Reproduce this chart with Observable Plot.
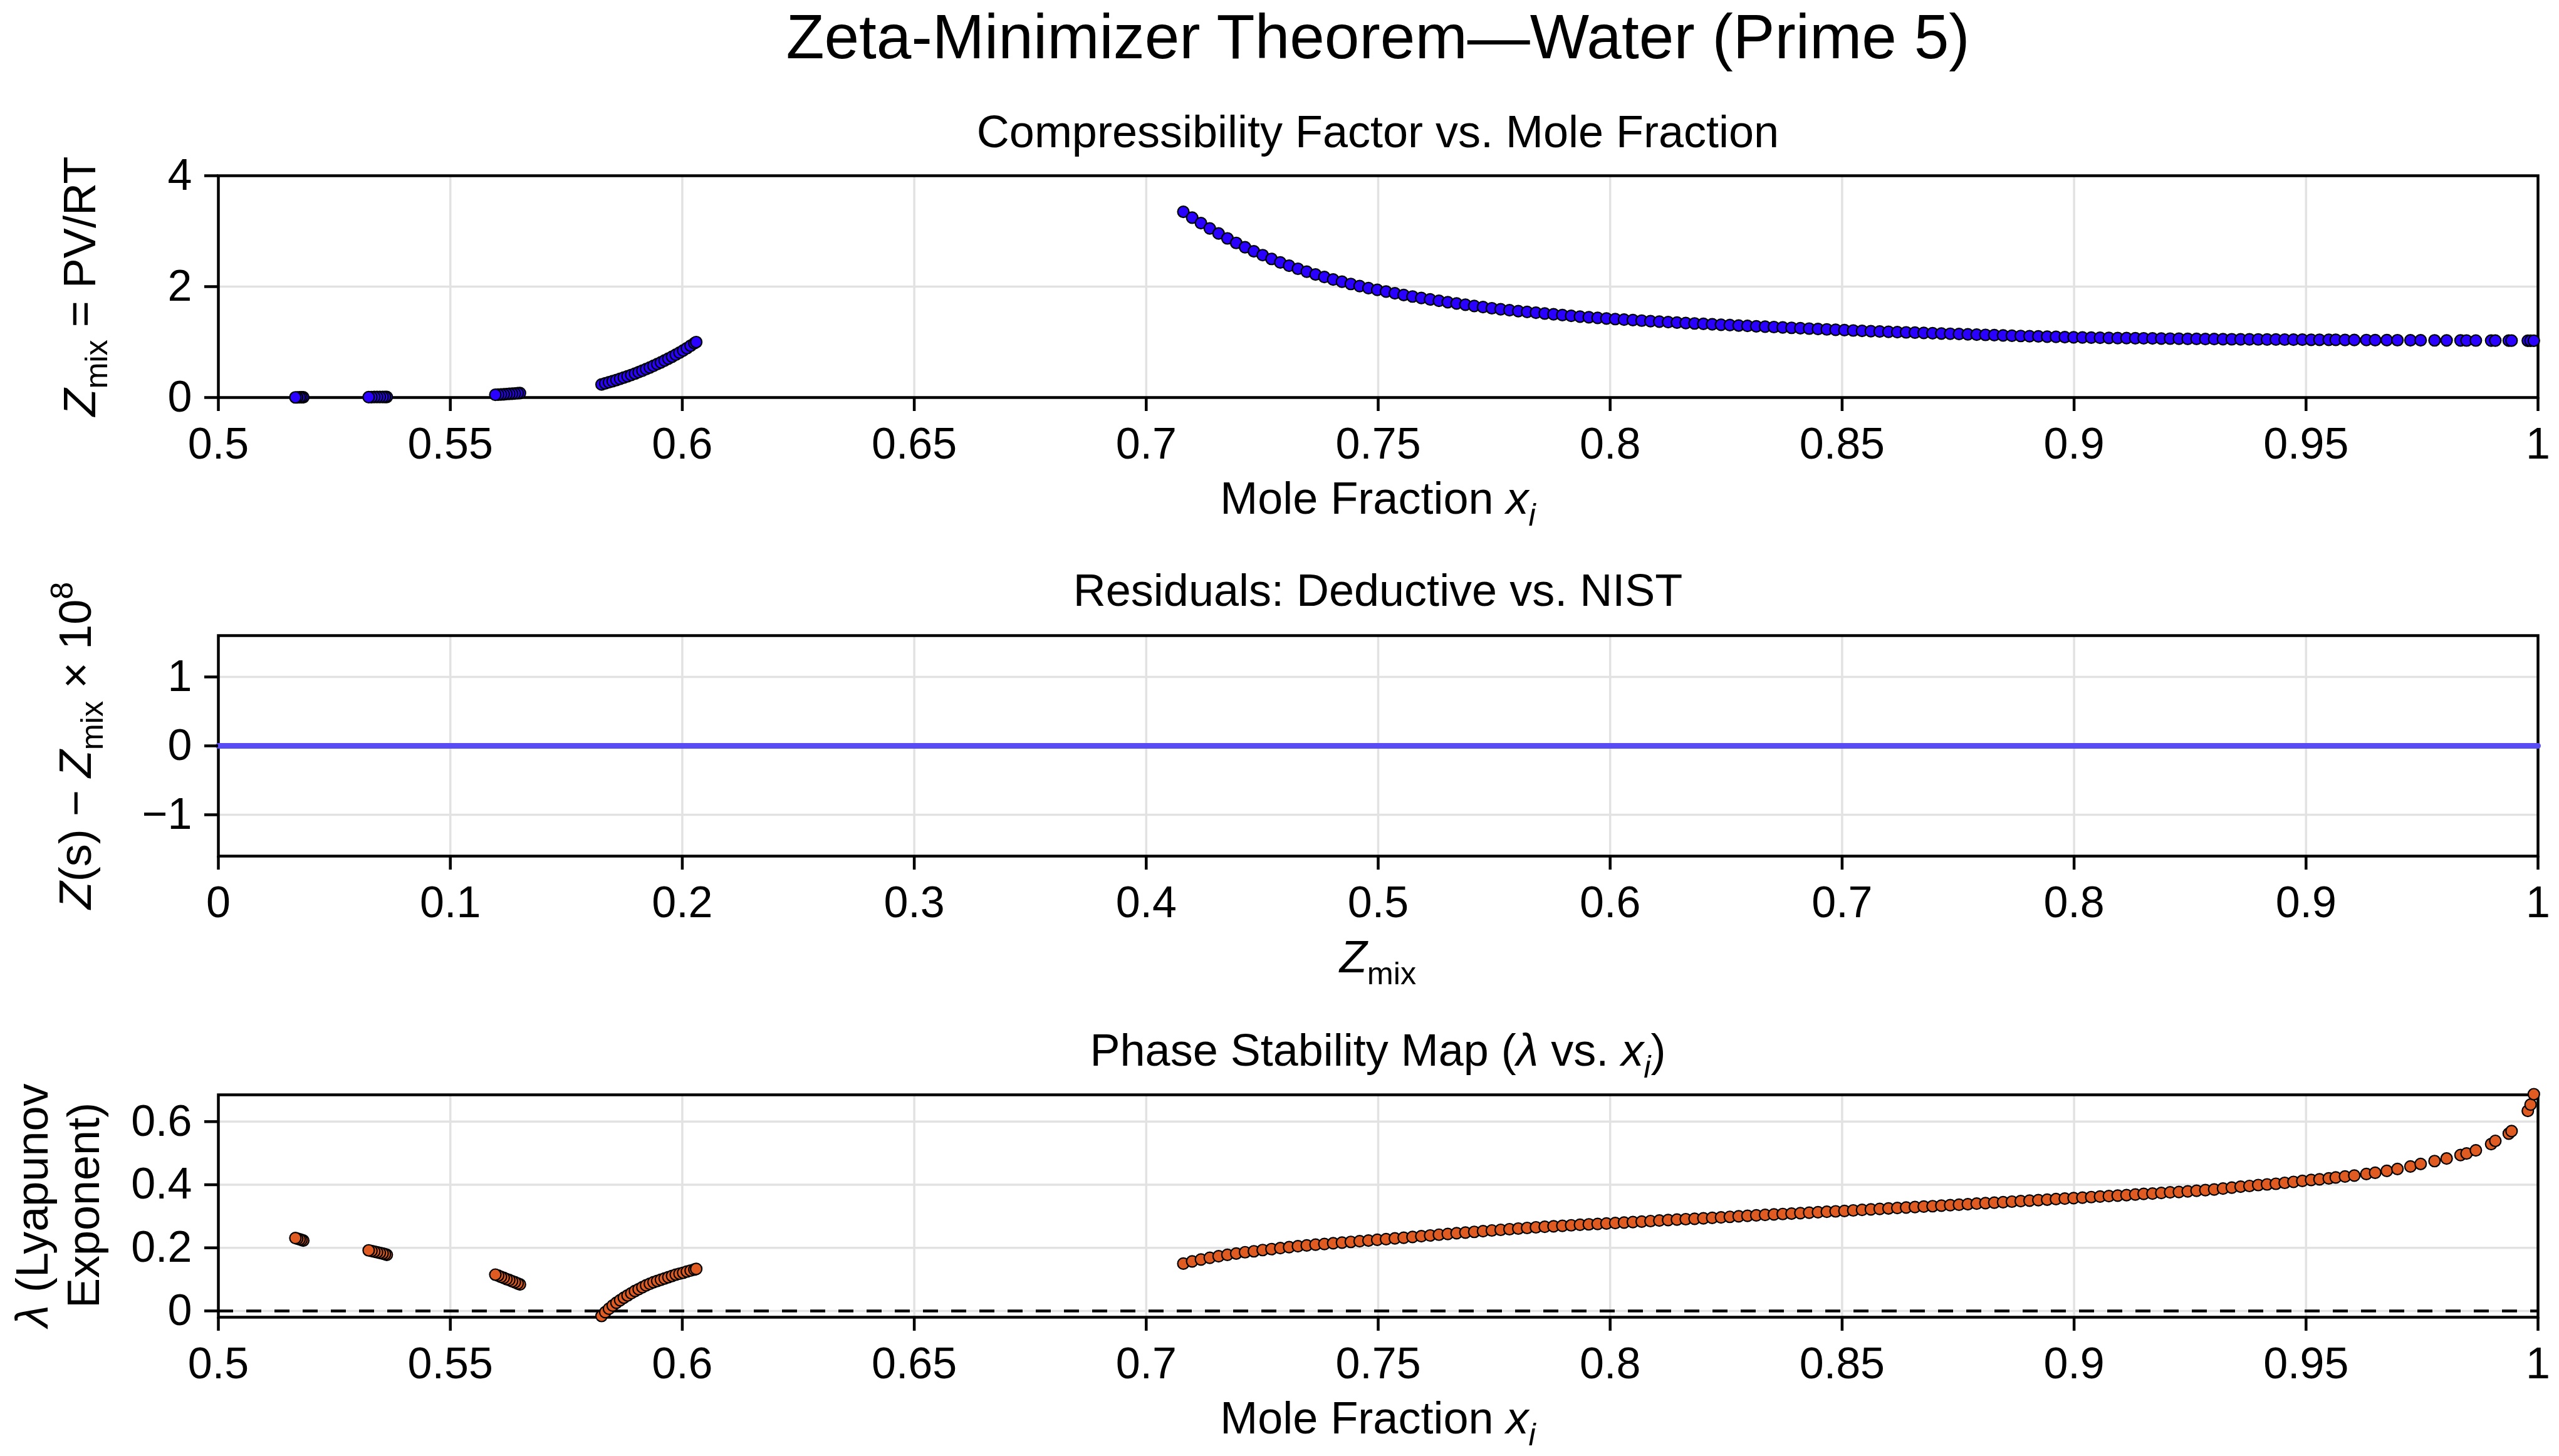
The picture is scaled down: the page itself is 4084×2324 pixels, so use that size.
<!DOCTYPE html>
<html>
<head>
<meta charset="utf-8">
<script src="https://cdn.jsdelivr.net/npm/d3@7"></script>
<script src="https://cdn.jsdelivr.net/npm/@observablehq/plot@0.6"></script>
<style>
  html, body { margin:0; padding:0; background:#fff; }
  #root { position:relative; width:4084px; height:2324px; overflow:hidden; background:#fff;
          font-family:"Liberation Sans", Arial, Helvetica, sans-serif; }
  #title { position:absolute; left:0; top:8px; width:4084px; box-sizing:border-box; padding-left:314px;
           text-align:center; font-size:100px; line-height:100px; color:#000; white-space:nowrap; }
  #root svg { position:absolute; left:0; }
  #root svg text { white-space: pre; }
</style>
</head>
<body>
<div id="root"><div id="title">Zeta-Minimizer Theorem—Water (Prime 5)</div></div>
<script>
// ---------------- data ----------------
const moleFraction = [
  0.5183, 0.5179, 0.5175, 0.5170, 0.5166,
  0.5363, 0.5359, 0.5354, 0.5348, 0.5342, 0.5336, 0.5330, 0.5324,
  0.5650, 0.5645, 0.5639, 0.5633, 0.5627, 0.5621, 0.5615, 0.5609, 0.5603, 0.5597,
  0.5826, 0.5834, 0.5842, 0.5850, 0.5858, 0.5866, 0.5874, 0.5882, 0.5890, 0.5898, 0.5906, 0.5914, 0.5922, 0.5930,
  0.5938, 0.5946, 0.5954, 0.5962, 0.5970, 0.5978, 0.5986, 0.5994, 0.6002, 0.6010, 0.6018, 0.6026, 0.6030,
  0.7080, 0.7099, 0.7118, 0.7137, 0.7156, 0.7175, 0.7194, 0.7213, 0.7232, 0.7251,
  0.7270, 0.7289, 0.7308, 0.7327, 0.7346, 0.7365, 0.7384, 0.7403, 0.7422, 0.7441,
  0.7460, 0.7479, 0.7498, 0.7517, 0.7536, 0.7555, 0.7574, 0.7593, 0.7612, 0.7631,
  0.7650, 0.7669, 0.7688, 0.7707, 0.7726, 0.7745, 0.7764, 0.7783, 0.7802, 0.7821,
  0.7840, 0.7859, 0.7878, 0.7897, 0.7916, 0.7935, 0.7954, 0.7973, 0.7992, 0.8011,
  0.8030, 0.8049, 0.8068, 0.8087, 0.8106, 0.8125, 0.8144, 0.8163, 0.8182, 0.8201,
  0.8220, 0.8239, 0.8258, 0.8277, 0.8296, 0.8315, 0.8334, 0.8353, 0.8372, 0.8391,
  0.8410, 0.8429, 0.8448, 0.8467, 0.8486, 0.8505, 0.8524, 0.8543, 0.8562, 0.8581,
  0.8600, 0.8619, 0.8638, 0.8657, 0.8676, 0.8695, 0.8714, 0.8733, 0.8752, 0.8771,
  0.8790, 0.8809, 0.8828, 0.8847, 0.8866, 0.8885, 0.8904, 0.8923, 0.8942, 0.8961,
  0.8980, 0.8999, 0.9018, 0.9037, 0.9056, 0.9075, 0.9094, 0.9113, 0.9132,
  0.9150, 0.9169, 0.9188, 0.9207, 0.9226, 0.9245, 0.9264, 0.9283, 0.9302, 0.9321,
  0.9340, 0.9359, 0.9378, 0.9397, 0.9416, 0.9435, 0.9454, 0.9473, 0.9492, 0.9511,
  0.9529, 0.9549, 0.9564, 0.9584, 0.9604, 0.9630, 0.9649, 0.9674, 0.9697, 0.9725,
  0.9747, 0.9777, 0.9803, 0.9833, 0.9846, 0.9866, 0.9899, 0.9908, 0.9937, 0.9943,
  0.9978, 0.9984, 0.9991
];

const zMix = [
  0.004, 0.004, 0.004, 0.003, 0.003,
  0.011, 0.011, 0.010, 0.010, 0.009, 0.009, 0.008, 0.008,
  0.080, 0.077, 0.073, 0.069, 0.066, 0.062, 0.059, 0.056, 0.053, 0.050,
  0.235, 0.255, 0.275, 0.295, 0.316, 0.338, 0.360, 0.383, 0.407, 0.432, 0.458, 0.485, 0.513, 0.542,
  0.572, 0.603, 0.635, 0.668, 0.702, 0.737, 0.773, 0.810, 0.848, 0.890, 0.935, 0.980, 1.000,
  3.35, 3.245, 3.145, 3.05, 2.958, 2.87, 2.788, 2.711, 2.638, 2.568,
  2.50, 2.436, 2.377, 2.322, 2.27, 2.22, 2.173, 2.129, 2.088, 2.048,
  2.01, 1.974, 1.941, 1.91, 1.879, 1.85, 1.822, 1.795, 1.769, 1.744,
  1.72, 1.697, 1.674, 1.652, 1.631, 1.61, 1.592, 1.575, 1.559, 1.544,
  1.53, 1.515, 1.501, 1.487, 1.473, 1.46, 1.448, 1.437, 1.426, 1.415,
  1.405, 1.396, 1.387, 1.378, 1.369, 1.36, 1.352, 1.344, 1.336, 1.328,
  1.32, 1.313, 1.306, 1.299, 1.292, 1.285, 1.278, 1.271, 1.264, 1.257,
  1.25, 1.243, 1.236, 1.229, 1.222, 1.215, 1.209, 1.203, 1.197, 1.191,
  1.185, 1.18, 1.175, 1.17, 1.165, 1.16, 1.155, 1.15, 1.145, 1.14,
  1.135, 1.13, 1.125, 1.12, 1.115, 1.11, 1.106, 1.102, 1.098, 1.094,
  1.09, 1.087, 1.084, 1.081, 1.078, 1.075, 1.073, 1.071, 1.07,
  1.068, 1.066, 1.064, 1.062, 1.060, 1.058, 1.057, 1.055, 1.054, 1.052,
  1.051, 1.050, 1.049, 1.048, 1.047, 1.046, 1.045, 1.044, 1.043, 1.042,
  1.042, 1.041, 1.040, 1.039, 1.038, 1.037, 1.036, 1.035, 1.034, 1.033,
  1.032, 1.031, 1.030, 1.029, 1.028, 1.028, 1.027, 1.027, 1.026, 1.026,
  1.025, 1.025, 1.025
];

const lyapunov = [
  0.223, 0.225, 0.227, 0.229, 0.231,
  0.178, 0.180, 0.182, 0.184, 0.186, 0.188, 0.190, 0.192,
  0.084, 0.087, 0.091, 0.094, 0.098, 0.101, 0.105, 0.108, 0.112, 0.115,
  -0.016, -0.004, 0.007, 0.017, 0.026, 0.034, 0.042, 0.049, 0.056, 0.063, 0.069, 0.075, 0.081, 0.086,
  0.091, 0.095, 0.099, 0.103, 0.107, 0.111, 0.115, 0.118, 0.121, 0.125, 0.128, 0.131, 0.133,
  0.150, 0.157, 0.163, 0.1685, 0.1735, 0.178, 0.182, 0.186, 0.189, 0.193,
  0.196, 0.199, 0.202, 0.205, 0.2075, 0.210, 0.2122, 0.2144, 0.2166, 0.2188,
  0.221, 0.2232, 0.2254, 0.2276, 0.2298, 0.232, 0.2344, 0.2368, 0.2392, 0.2416,
  0.244, 0.2462, 0.2484, 0.2506, 0.2528, 0.255, 0.257, 0.259, 0.261, 0.263,
  0.265, 0.2666, 0.2682, 0.2698, 0.2714, 0.273, 0.2744, 0.2758, 0.2772, 0.2786,
  0.280, 0.2816, 0.2832, 0.2848, 0.2864, 0.288, 0.2894, 0.2908, 0.2922, 0.2936,
  0.295, 0.2966, 0.2982, 0.2998, 0.3014, 0.303, 0.3044, 0.3058, 0.3072, 0.3086,
  0.310, 0.3114, 0.3128, 0.3142, 0.3156, 0.317, 0.3186, 0.3202, 0.3218, 0.3234,
  0.325, 0.3264, 0.3278, 0.3292, 0.3306, 0.332, 0.3336, 0.3352, 0.3368, 0.3384,
  0.340, 0.3416, 0.3432, 0.3448, 0.3464, 0.348, 0.3496, 0.3512, 0.3528, 0.3544,
  0.356, 0.3576, 0.3592, 0.3608, 0.3624, 0.364, 0.3656, 0.3672, 0.369,
  0.371, 0.372, 0.374, 0.376, 0.377, 0.379, 0.381, 0.383, 0.385, 0.388,
  0.391, 0.394, 0.396, 0.399, 0.401, 0.403, 0.406, 0.409, 0.412, 0.415,
  0.417, 0.420, 0.423, 0.426, 0.429, 0.434, 0.438, 0.444, 0.450, 0.458,
  0.466, 0.475, 0.483, 0.494, 0.499, 0.509, 0.529, 0.539, 0.562, 0.570,
  0.634, 0.654, 0.687
];

// residual panel: Z(s) - Z_mix (x 1e8) against Z_mix
const residualZmix = [0, 0.25, 0.5, 0.75, 1];
const residualScaled = [0, 0, 0, 0, 0];

// tick values
const xTicksMole = [0.5, 0.55, 0.6, 0.65, 0.7, 0.75, 0.8, 0.85, 0.9, 0.95, 1];
const xTicksZmix = [0, 0.1, 0.2, 0.3, 0.4, 0.5, 0.6, 0.7, 0.8, 0.9, 1];
const yTicksZ = [0, 2, 4];
const yTicksResid = [-1, 0, 1];
const yTicksLyap = [0, 0.2, 0.4, 0.6];

// ---------------- drawing ----------------
if (moleFraction.length !== zMix.length || moleFraction.length !== lyapunov.length) {
  throw new Error("length mismatch " + moleFraction.length + " " + zMix.length + " " + lyapunov.length);
}
const states = moleFraction.map((x, i) => ({x, z: zMix[i], lam: lyapunov[i]}));
const residuals = residualZmix.map((z, i) => ({z, r: residualScaled[i]}));

const FONT = '"Liberation Sans", Arial, Helvetica, sans-serif';
const W = 4084, ML = 348, MR = 34;
const CX = (ML + (W - MR)) / 2;
const root = document.getElementById("root");
const GRID = {stroke: "#e2e2e2", strokeOpacity: 1, strokeWidth: 3.5};
const fmtNum = d => (d < 0 ? "\u2212" : "") + String(+Math.abs(d).toFixed(2));

function makePanel(o) {
  const svg = Plot.plot({
    width: W, height: o.height,
    marginTop: o.frameTop, marginBottom: o.height - o.frameBottom,
    marginLeft: ML, marginRight: MR,
    style: {fontFamily: FONT, fontSize: "70px", background: "transparent", overflow: "visible", color: "#000"},
    x: {domain: o.xDomain},
    y: {domain: o.yDomain},
    marks: [
      Plot.gridX(o.xTicks, GRID),
      Plot.gridY(o.yTicks, GRID),
      Plot.frame({stroke: "#000", strokeWidth: 4.5}),
      ...o.marks,
      Plot.axisX(o.xTicks, {tickSize: 22, tickPadding: 26, strokeWidth: 4.5, fontSize: 70, tickFormat: fmtNum, label: null}),
      Plot.axisY(o.yTicks, {tickSize: 22, tickPadding: 20, strokeWidth: 4.5, fontSize: 70, tickFormat: fmtNum, label: null})
    ]
  });
  svg.style.top = o.top + "px";
  root.appendChild(svg);
  return d3.select(svg);
}

function rich(sel, x, y, parts, opts = {}) {
  const size = opts.size || 72;
  const t = sel.append("text")
    .attr("transform", opts.rotate ? `translate(${x},${y}) rotate(-90)` : `translate(${x},${y})`)
    .attr("text-anchor", "middle")
    .attr("font-family", FONT)
    .attr("font-size", size)
    .attr("fill", "#000");
  let cur = 0;
  for (const p of parts) {
    const shift = p.sub ? 0.26 * size : p.sup ? -0.40 * size : 0;
    const ts = t.append("tspan").text(p.t).attr("dy", shift - cur);
    cur = shift;
    if (p.it) ts.attr("font-style", "italic");
    if (p.sub || p.sup) ts.attr("font-size", size * 0.7);
  }
  return t;
}

// Panel 1: compressibility factor
{
  const top = 0;
  const s = makePanel({
    top, height: 880, frameTop: 280, frameBottom: 634,
    xDomain: [0.5, 1], yDomain: [0, 4], xTicks: xTicksMole, yTicks: yTicksZ,
    marks: [
      Plot.dot(states, {x: "x", y: "z", r: 9, fill: "#2a00ff", stroke: "#000", strokeWidth: 2.2})
    ]
  });
  rich(s, CX, 235 - top, [{t: "Compressibility Factor vs. Mole Fraction"}]);
  rich(s, CX, 820 - top, [{t: "Mole Fraction "}, {t: "x", it: true}, {t: "i", it: true, sub: true}]);
  rich(s, 152, 457 - top, [{t: "Z", it: true}, {t: "mix", sub: true}, {t: " = PV/RT"}], {rotate: true});
}

// Panel 2: residuals
{
  const top = 880;
  const s = makePanel({
    top, height: 720, frameTop: 1014 - top, frameBottom: 1366 - top,
    xDomain: [0, 1], yDomain: [-1.6, 1.6], xTicks: xTicksZmix, yTicks: yTicksResid,
    marks: [
      Plot.line(residuals, {x: "z", y: "r", stroke: "#5a4cf5", strokeWidth: 9})
    ]
  });
  rich(s, CX, 967 - top, [{t: "Residuals: Deductive vs. NIST"}]);
  rich(s, CX, 1552 - top, [{t: "Z", it: true}, {t: "mix", sub: true}]);
  rich(s, 145, 1190 - top, [
    {t: "Z", it: true}, {t: "(s) \u2212 "}, {t: "Z", it: true}, {t: "mix", sub: true},
    {t: " \u00d7 10"}, {t: "8", sup: true}
  ], {rotate: true});
}

// Panel 3: phase stability map
{
  const top = 1600;
  const s = makePanel({
    top, height: 724, frameTop: 1747 - top, frameBottom: 2102 - top,
    xDomain: [0.5, 1], yDomain: [-0.02, 0.685], xTicks: xTicksMole, yTicks: yTicksLyap,
    marks: [
      Plot.ruleY([0], {stroke: "#000", strokeWidth: 4.5, strokeDasharray: "24,21"}),
      Plot.dot(states, {x: "x", y: "lam", r: 9, fill: "#df5b21", stroke: "#000", strokeWidth: 2.2})
    ]
  });
  rich(s, CX, 1701 - top, [
    {t: "Phase Stability Map ("}, {t: "\u03bb", it: true}, {t: " vs. "},
    {t: "x", it: true}, {t: "i", it: true, sub: true}, {t: ")"}
  ]);
  rich(s, CX, 2288 - top, [{t: "Mole Fraction "}, {t: "x", it: true}, {t: "i", it: true, sub: true}]);
  rich(s, 76, 1924 - top, [{t: "\u03bb", it: true}, {t: " (Lyapunov"}], {rotate: true});
  rich(s, 158, 1924 - top, [{t: "Exponent)"}], {rotate: true});
}
</script>
</body>
</html>
